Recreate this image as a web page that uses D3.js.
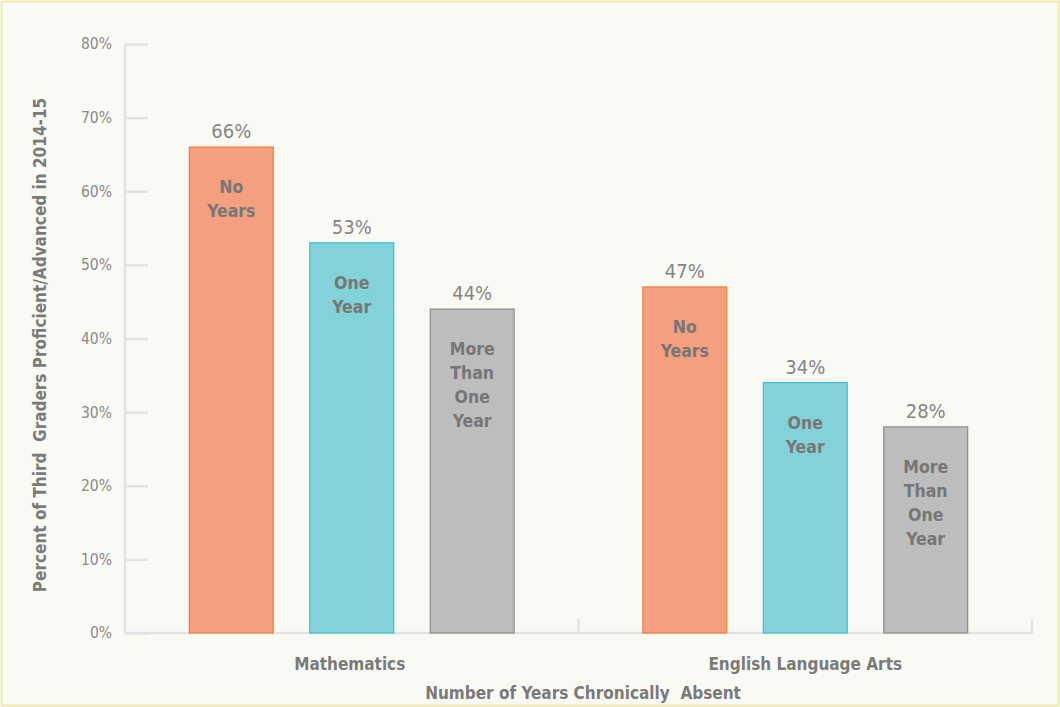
<!DOCTYPE html>
<html><head><meta charset="utf-8">
<script src="https://cdn.jsdelivr.net/npm/d3@7"></script>
<style>
html,body{margin:0;padding:0;background:#fff;}
svg{display:block;}
</style></head>
<body>
<script>
const subjects = ["Mathematics", "English Language Arts"];
const groups = ["No Years", "One Year", "More Than One Year"];
const groupLines = [["No","Years"],["One","Year"],["More","Than","One","Year"]];
const mathValues = [66, 53, 44];
const elaValues = [47, 34, 28];
const yTicks = [0,10,20,30,40,50,60,70,80];
const fills = ["#F4A080", "#83D2D9", "#BDBDBD"];
const strokes = ["#EF7E3A", "#3DBFCB", "#8C8C8C"];

(function(){
const data = [];
subjects.forEach((s,i)=>{
  const vals = i===0 ? mathValues : elaValues;
  groups.forEach((g,j)=>data.push({subject:s, group:g, gi:j, value:vals[j]}));
});

const W=1060,H=707;
const svg=d3.select("body").append("svg").attr("width",W).attr("height",H);
svg.append("rect").attr("x",1.5).attr("y",1.5).attr("width",W-3).attr("height",H-3)
  .attr("fill","#FAFAF5").attr("stroke","#EEEAAE").attr("stroke-width",2);

const font="'DejaVu Sans Condensed','Liberation Sans Narrow','Open Sans',sans-serif";
const textColor="#7A7A7A";
const mLeft=125,mRight=1032,mTop=44,mBottom=633;

const y=d3.scaleLinear().domain([0,80]).range([mBottom,mTop]);
const x0=d3.scaleBand().domain(subjects).range([mLeft,mRight]).paddingInner(0).paddingOuter(0);
const x1=d3.scaleBand().domain(groups).range([0,x0.bandwidth()]).paddingInner(0.295).paddingOuter(0.53);

// y axis
const yAxis=d3.axisLeft(y).tickValues(yTicks).tickFormat(d=>d+"%").tickSize(-23).tickPadding(13);
const gy=svg.append("g").attr("transform",`translate(${mLeft},0)`).call(yAxis);
gy.select(".domain").remove();
gy.selectAll(".tick line").attr("stroke","#E2E2E2").attr("stroke-width",2.5);
gy.selectAll(".tick text").attr("fill","#8A8A8A").style("font-family",font).style("font-size","15.5px");
svg.append("line").attr("x1",mLeft).attr("x2",mLeft).attr("y1",y(80)).attr("y2",mBottom+1)
  .attr("stroke","#E2E2E2").attr("stroke-width",2.5);

// x axis
const xAxis=d3.axisBottom(x0).tickSize(0).tickFormat("");
const gx=svg.append("g").attr("transform",`translate(0,${mBottom})`).call(xAxis);
gx.select(".domain").attr("stroke","#E2E2E2").attr("stroke-width",2.5).attr("d",`M${mLeft},0H${mRight}`);
const bounds=[x0(subjects[1]), x0.range()[1]];
svg.selectAll(".btick").data(bounds).enter().append("line")
  .attr("x1",d=>d).attr("x2",d=>d).attr("y1",mBottom-14).attr("y2",mBottom+1)
  .attr("stroke","#E2E2E2").attr("stroke-width",2.5);

// category labels
svg.selectAll(".cat").data(subjects).enter().append("text")
  .attr("x",d=>x0(d)+x0.bandwidth()/2-(d===subjects[0]?2:0)).attr("y",670)
  .attr("text-anchor","middle").attr("fill",textColor)
  .style("font-family",font).style("font-weight","bold").style("font-size","17px")
  .text(d=>d);

// bars
const bars=svg.append("g");
bars.selectAll("rect").data(data).enter().append("rect")
  .attr("x",d=>x0(d.subject)+x1(d.group)+0.5)
  .attr("y",d=>y(d.value))
  .attr("width",x1.bandwidth()-1)
  .attr("height",d=>mBottom-y(d.value))
  .attr("fill",d=>fills[d.gi]).attr("stroke",d=>strokes[d.gi]).attr("stroke-width",1.2);

// value labels
svg.selectAll(".val").data(data).enter().append("text")
  .attr("x",d=>x0(d.subject)+x1(d.group)+x1.bandwidth()/2)
  .attr("y",d=>y(d.value)-9)
  .attr("text-anchor","middle").attr("fill","#858585")
  .style("font-family",font).style("font-size","20px")
  .text(d=>d.value+"%");

// in-bar labels
const inl=svg.selectAll(".inl").data(data).enter().append("text")
  .attr("text-anchor","middle").attr("fill","#767676")
  .style("font-family",font).style("font-weight","bold").style("font-size","17.5px");
inl.each(function(d){
  const t=d3.select(this);
  const cx=x0(d.subject)+x1(d.group)+x1.bandwidth()/2;
  groupLines[d.gi].forEach((ln,k)=>{
    t.append("tspan").attr("x",cx).attr("y",y(d.value)+46+k*24).text(ln);
  });
});

// axis titles
svg.append("text").attr("transform",`translate(46,345) rotate(-90)`)
  .attr("text-anchor","middle").attr("fill",textColor)
  .style("font-family",font).style("font-weight","bold").style("font-size","17px")
  .style("white-space","pre")
  .text("Percent of Third  Graders Proficient/Advanced in 2014-15");
svg.append("text").attr("x",583).attr("y",699)
  .attr("text-anchor","middle").attr("fill",textColor)
  .style("font-family",font).style("font-weight","bold").style("font-size","17px")
  .style("white-space","pre")
  .text("Number of Years Chronically  Absent");
})();
</script>
</body></html>
